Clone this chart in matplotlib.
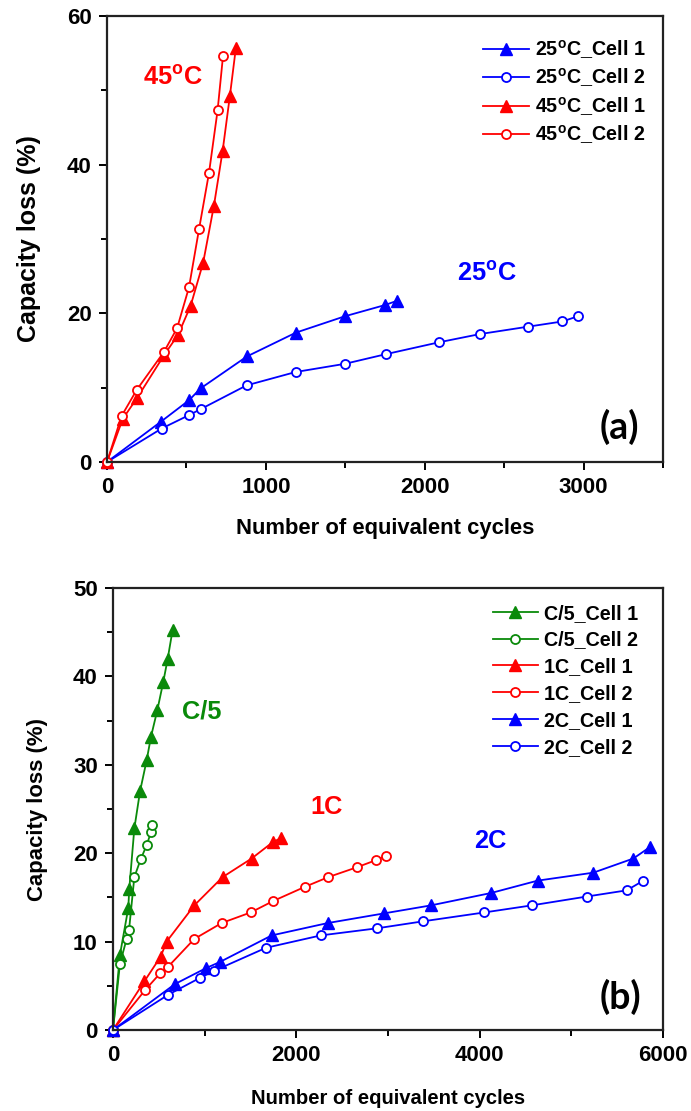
import matplotlib
matplotlib.use('Agg')
import matplotlib.pyplot as plt
from matplotlib.ticker import MultipleLocator

plt.rcParams['font.family'] = ['Liberation Sans', 'DejaVu Sans']
plt.rcParams['font.weight'] = 'bold'
plt.rcParams['mathtext.fontset'] = 'custom'
plt.rcParams['mathtext.rm'] = 'Liberation Sans:bold'
plt.rcParams['mathtext.it'] = 'Liberation Sans:bold'
plt.rcParams['mathtext.bf'] = 'Liberation Sans:bold'

RED = '#FF0000'
BLUE = '#0000FF'
GREEN = '#0A8A0A'

# ---- panel (a): temperature ----
t25_c1_x = [0, 338, 516, 589, 881, 1189, 1497, 1748, 1828]
t25_c1_y = [0, 5.4, 8.3, 9.9, 14.2, 17.4, 19.6, 21.1, 21.7]
t25_c2_x = [0, 344, 516, 589, 878, 1187, 1497, 1755, 2090, 2346, 2650, 2866, 2964]
t25_c2_y = [0, 4.5, 6.3, 7.1, 10.3, 12.1, 13.2, 14.5, 16.1, 17.2, 18.2, 18.9, 19.6]
t45_c1_x = [0, 99, 189, 360, 447, 526, 605, 673, 728, 773, 811]
t45_c1_y = [0, 5.8, 8.6, 14.4, 17.1, 21.0, 26.8, 34.5, 41.9, 49.2, 55.7]
t45_c2_x = [0, 92, 187, 358, 441, 516, 579, 642, 696, 730]
t45_c2_y = [0, 6.2, 9.7, 14.8, 18.0, 23.5, 31.3, 38.9, 47.3, 54.6]

# ---- panel (b): C-rate ----
c5_c1_x = [0, 76, 167, 178, 233, 295, 367, 415, 484, 549, 597, 651]
c5_c1_y = [0, 8.5, 13.8, 16.0, 22.8, 27.0, 30.5, 33.2, 36.2, 39.4, 42.0, 45.3]
c5_c2_x = [0, 76, 149, 175, 233, 302, 367, 415, 429]
c5_c2_y = [0, 7.5, 10.3, 11.3, 17.3, 19.3, 20.9, 22.4, 23.2]
c1_c1_x = [0, 342, 520, 585, 887, 1196, 1512, 1749, 1833]
c1_c1_y = [0, 5.5, 8.3, 10.0, 14.1, 17.3, 19.4, 21.3, 21.7]
c1_c2_x = [0, 349, 513, 596, 887, 1185, 1502, 1749, 2094, 2349, 2658, 2865, 2978]
c1_c2_y = [0, 4.5, 6.4, 7.1, 10.3, 12.1, 13.3, 14.6, 16.2, 17.3, 18.4, 19.2, 19.7]
c2_c1_x = [0, 676, 1015, 1167, 1731, 2342, 2960, 3469, 4124, 4633, 5240, 5676, 5858]
c2_c1_y = [0, 5.2, 7.0, 7.7, 10.7, 12.1, 13.2, 14.1, 15.5, 16.9, 17.8, 19.4, 20.7]
c2_c2_x = [0, 604, 949, 1105, 1669, 2266, 2877, 3385, 4051, 4568, 5168, 5604, 5786]
c2_c2_y = [0, 4.0, 5.9, 6.7, 9.3, 10.7, 11.5, 12.3, 13.3, 14.1, 15.1, 15.8, 16.9]

deg = '$^{\\mathrm{o}}$'


def series(ax, x, y, color, filled, label):
    if filled:
        ax.plot(x, y, color=color, lw=1.3, marker='^', ms=8,
                mfc=color, mec=color, label=label, clip_on=False)
    else:
        ax.plot(x, y, color=color, lw=1.3, marker='o', ms=6.5,
                mfc='white', mec=color, mew=1.3, label=label, clip_on=False)


def style_axes(ax, xsize, ysize, xpad, ypad):
    for s in ax.spines.values():
        s.set_linewidth(1.6)
        s.set_color('#222222')
    ax.tick_params(which='both', direction='out', width=1.4, labelsize=16, pad=5)
    ax.tick_params(which='major', length=6)
    ax.tick_params(which='minor', length=4)
    ax.set_xlabel('Number of equivalent cycles', fontsize=xsize, fontweight='bold', labelpad=xpad)
    ax.set_ylabel('Capacity loss (%)', fontsize=ysize, fontweight='bold', labelpad=ypad)


fig = plt.figure(figsize=(6.91, 11.11), dpi=100)

ax1 = fig.add_axes([0.1549, 0.5842, 0.8046, 0.4014])
series(ax1, t25_c1_x, t25_c1_y, BLUE, True, '25' + deg + 'C_Cell 1')
series(ax1, t25_c2_x, t25_c2_y, BLUE, False, '25' + deg + 'C_Cell 2')
series(ax1, t45_c1_x, t45_c1_y, RED, True, '45' + deg + 'C_Cell 1')
series(ax1, t45_c2_x, t45_c2_y, RED, False, '45' + deg + 'C_Cell 2')
ax1.set_xlim(0, 3500)
ax1.set_ylim(0, 60)
ax1.xaxis.set_major_locator(MultipleLocator(1000))
ax1.xaxis.set_minor_locator(MultipleLocator(500))
ax1.yaxis.set_major_locator(MultipleLocator(20))
ax1.yaxis.set_minor_locator(MultipleLocator(10))
style_axes(ax1, 15.8, 18, 14, 19)
ax1.legend(loc='upper right', frameon=False, fontsize=14.2, handlelength=2.3,
           labelspacing=0.28, handletextpad=0.3, bbox_to_anchor=(1.0, 0.99))
ax1.text(415, 51.7, '45' + deg + 'C', color=RED, fontsize=18.3, fontweight='bold',
         ha='center', va='center')
ax1.text(2390, 25.3, '25' + deg + 'C', color=BLUE, fontsize=18.3, fontweight='bold',
         ha='center', va='center')
ax1.text(3226, 4.7, '(a)', fontsize=27, fontweight='bold', family='Lato',
         ha='center', va='center')

ax2 = fig.add_axes([0.1635, 0.0729, 0.796, 0.3978])
series(ax2, c5_c1_x, c5_c1_y, GREEN, True, 'C/5_Cell 1')
series(ax2, c5_c2_x, c5_c2_y, GREEN, False, 'C/5_Cell 2')
series(ax2, c1_c1_x, c1_c1_y, RED, True, '1C_Cell 1')
series(ax2, c1_c2_x, c1_c2_y, RED, False, '1C_Cell 2')
series(ax2, c2_c1_x, c2_c1_y, BLUE, True, '2C_Cell 1')
series(ax2, c2_c2_x, c2_c2_y, BLUE, False, '2C_Cell 2')
ax2.set_xlim(0, 6000)
ax2.set_ylim(0, 50)
ax2.xaxis.set_major_locator(MultipleLocator(2000))
ax2.xaxis.set_minor_locator(MultipleLocator(1000))
ax2.yaxis.set_major_locator(MultipleLocator(10))
ax2.yaxis.set_minor_locator(MultipleLocator(5))
style_axes(ax2, 14.6, 15.9, 16, 18)
ax2.legend(loc='upper right', frameon=False, fontsize=14.2, handlelength=2.3,
           labelspacing=0.40, handletextpad=0.3, bbox_to_anchor=(0.987, 1.005))
ax2.text(971, 36.0, 'C/5', color=GREEN, fontsize=18.3, fontweight='bold',
         ha='center', va='center')
ax2.text(2334, 25.2, '1C', color=RED, fontsize=18.3, fontweight='bold',
         ha='center', va='center')
ax2.text(4113, 21.4, '2C', color=BLUE, fontsize=18.3, fontweight='bold',
         ha='center', va='center')
ax2.text(5531, 3.7, '(b)', fontsize=27, fontweight='bold', family='Lato',
         ha='center', va='center')

fig.savefig('out.png', dpi=100)
